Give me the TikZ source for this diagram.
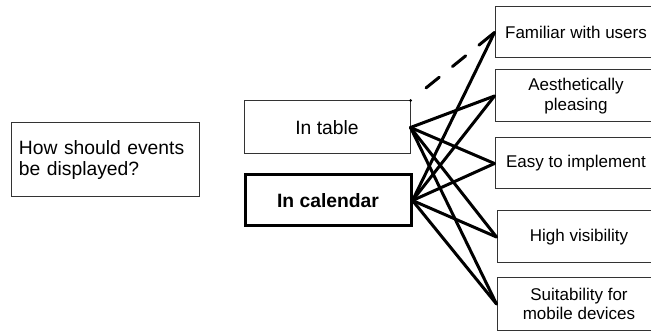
\documentclass[tikz,border=0pt]{standalone}
\usepackage{fontspec}
\setmainfont{Liberation Sans}

\begin{document}
\begin{tikzpicture}[x=1pt,y=-1pt,-,
    box/.style={rectangle,draw=black!80,line width=1pt,inner sep=0pt,align=center,
      minimum height=52pt,font=\fontsize{17}{19.5}\selectfont},
    big box/.style={box,font=\fontsize{19.3}{20.5}\selectfont},
    link/.style={line width=3pt,line cap=round}]

            \useasboundingbox (0,0) rectangle (651,331);

            \node[big box] (q) at (105,160) [minimum width=188pt, minimum height=74pt, inner xsep=8pt, text width=172pt, align=left]{How should events\\be displayed?};
            \node[big box] (t) at (327,127.5) [minimum width=166pt, minimum height=53pt]{In table};
            \node[big box] (c) at (328,200.5) [minimum width=166pt, minimum height=51pt, line width=3pt, draw=black, font=\fontsize{19.3}{20.5}\selectfont\bfseries]{In calendar};

            \node[box] (f) at (576,32.5) [minimum width=162pt, minimum height=51pt]{Familiar with users};
            \node[box] (a) at (576,96) [minimum width=162pt]{Aesthetically\\pleasing};
            \node[box] (e) at (576,163.5) [minimum width=162pt, minimum height=51pt]{Easy to implement};
            \node[box] (h) at (579,237) [minimum width=164pt]{High visibility};
            \node[box] (s) at (579,304) [minimum width=164pt]{Suitability for\\mobile devices};

            \draw[link, dash pattern=on 0pt off 20pt on 17pt off 17pt on 17pt off 17pt on 40pt] (t.north east) -- (f.west);

            \path[link]
                (t.east) edge (a.west)
                (t.east) edge (e.west)
                (t.east) edge (h.west)
                (t.east) edge (s.west)

                (c.east) edge (f.west)
                (c.east) edge (a.west)
                (c.east) edge (e.west)
                (c.east) edge (h.west)
                (c.east) edge (s.west)
            ;
        \end{tikzpicture}
\end{document}
